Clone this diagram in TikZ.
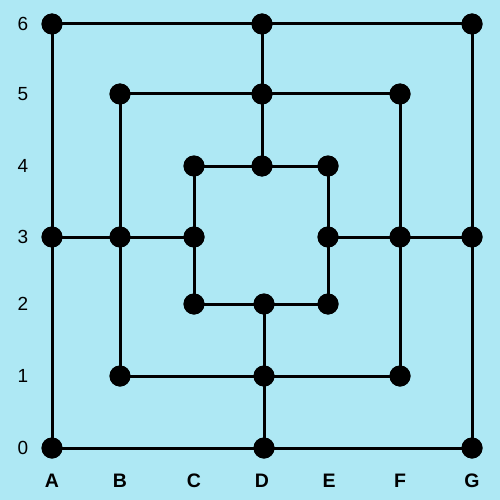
\documentclass[tikz,border=0pt]{standalone}
\usepackage{fontspec}
\setmainfont{Liberation Sans}
\definecolor{bg}{HTML}{AEE8F4}
\begin{document}
\begin{tikzpicture}[x=1pt,y=-1pt,
  pt/.style={circle,fill=black,minimum size=21pt,inner sep=0pt},
  ln/.style={line width=3pt,black},
  rowlab/.style={font=\fontsize{19}{19}\selectfont},
  collab/.style={font=\fontsize{19.5}{19.5}\selectfont\bfseries}]
\fill[bg] (0,0) rectangle (500,500);
\useasboundingbox (0,0) rectangle (500,500);
% points
\node[pt] (A6) at (52,24) {};
\node[pt] (D6) at (262,24) {};
\node[pt] (G6) at (472,24) {};
\node[pt] (B5) at (120,94) {};
\node[pt] (D5) at (262,94) {};
\node[pt] (F5) at (400,94) {};
\node[pt] (C4) at (194,166) {};
\node[pt] (D4) at (262,166) {};
\node[pt] (E4) at (328,166) {};
\node[pt] (A3) at (52,237) {};
\node[pt] (B3) at (120,237) {};
\node[pt] (C3) at (194,237) {};
\node[pt] (E3) at (328,237) {};
\node[pt] (F3) at (400,237) {};
\node[pt] (G3) at (472,237) {};
\node[pt] (C2) at (194,304) {};
\node[pt] (D2) at (264,304) {};
\node[pt] (E2) at (328,304) {};
\node[pt] (B1) at (120,376) {};
\node[pt] (D1) at (264,376) {};
\node[pt] (F1) at (400,376) {};
\node[pt] (A0) at (52,448) {};
\node[pt] (D0) at (264,448) {};
\node[pt] (G0) at (472,448) {};
% lines
\draw[ln] (A6.center) -- (D6.center) -- (G6.center) -- (G3.center) -- (G0.center) -- (D0.center) -- (A0.center) -- (A3.center) -- cycle;
\draw[ln] (B5.center) -- (D5.center) -- (F5.center) -- (F3.center) -- (F1.center) -- (D1.center) -- (B1.center) -- (B3.center) -- cycle;
\draw[ln] (C4.center) -- (D4.center) -- (E4.center) -- (E3.center) -- (E2.center) -- (D2.center) -- (C2.center) -- (C3.center) -- cycle;
\draw[ln] (D6.center) -- (D5.center) -- (D4.center);
\draw[ln] (D2.center) -- (D1.center) -- (D0.center);
\draw[ln] (A3.center) -- (B3.center) -- (C3.center);
\draw[ln] (E3.center) -- (F3.center) -- (G3.center);
% redraw points on top
\foreach \p in {A6,D6,G6,B5,D5,F5,C4,D4,E4,A3,B3,C3,E3,F3,G3,C2,D2,E2,B1,D1,F1,A0,D0,G0}
  \fill (\p) circle (10.5pt);
% labels
\node[rowlab] (r6) at (23,24) {6};
\node[rowlab] (r5) at (23,94) {5};
\node[rowlab] (r4) at (23,166) {4};
\node[rowlab] (r3) at (23,237) {3};
\node[rowlab] (r2) at (23,304) {2};
\node[rowlab] (r1) at (23,376) {1};
\node[rowlab] (r0) at (23,448) {0};
\node[collab] (cA) at (52,481) {A};
\node[collab] (cB) at (120,481) {B};
\node[collab] (cC) at (194,481) {C};
\node[collab] (cD) at (262,481) {D};
\node[collab] (cE) at (329,481) {E};
\node[collab] (cF) at (400,481) {F};
\node[collab] (cG) at (472,481) {G};
\end{tikzpicture}
\end{document}
